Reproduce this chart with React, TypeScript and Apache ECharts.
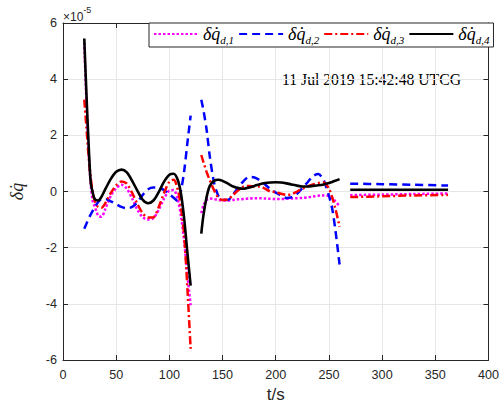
import React, { useEffect, useRef } from 'react';
import * as echarts from 'echarts';

// time samples of the three data segments (s)
const seg1T = [20, 22, 24, 26, 28, 30, 33, 36, 40, 45, 50, 55, 60, 65, 70, 75, 80, 85, 90, 95, 100, 104, 108, 111, 114, 117, 120];
const seg2T = [130, 132, 135, 138, 142, 146, 150, 155, 160, 165, 170, 175, 180, 185, 190, 195, 200, 205, 210, 215, 220, 225, 230, 235, 240, 245, 250, 253, 256, 260];
const seg3T = [270, 300, 330, 362];

// values in units of 1e-5
const d1Seg1 = [5.3, 3.2, 1.5, 0.3, -0.35, -0.55, -0.85, -0.9, -0.6, -0.15, 0.12, 0.24, 0.1, -0.25, -0.65, -0.92, -1.0, -0.95, -0.65, -0.25, 0.03, 0.05, -0.3, -0.9, -1.8, -3.0, -4.05];
const d1Seg2 = [-0.77, -0.5, -0.3, -0.25, -0.27, -0.3, -0.32, -0.32, -0.3, -0.28, -0.27, -0.25, -0.24, -0.24, -0.25, -0.26, -0.27, -0.27, -0.26, -0.25, -0.24, -0.23, -0.21, -0.18, -0.15, -0.14, -0.16, -0.22, -0.35, -0.52];
const d1Seg3 = [-0.13, -0.11, -0.09, -0.07];

const d2Seg1 = [-1.33, -1.15, -0.97, -0.82, -0.68, -0.55, -0.38, -0.28, -0.27, -0.35, -0.45, -0.55, -0.6, -0.55, -0.38, -0.12, 0.08, 0.14, 0.13, 0.05, -0.1, -0.22, -0.35, 0.05, 0.75, 1.75, 2.7];
const d2Seg2 = [3.27, 2.9, 2.2, 1.25, 0.32, -0.15, -0.27, -0.3, -0.1, 0.16, 0.38, 0.52, 0.5, 0.4, 0.25, 0.08, -0.04, -0.15, -0.23, -0.2, -0.08, 0.12, 0.33, 0.55, 0.62, 0.4, -0.15, -0.6, -1.35, -2.6];
const d2Seg3 = [0.28, 0.26, 0.24, 0.21];

const d3Seg1 = [3.27, 2.3, 1.3, 0.5, -0.05, -0.35, -0.55, -0.58, -0.4, -0.05, 0.22, 0.36, 0.28, -0.05, -0.45, -0.78, -0.93, -0.92, -0.55, -0.05, 0.35, 0.42, 0.05, -0.6, -1.6, -3.5, -5.6];
const d3Seg2 = [1.3, 1.05, 0.7, 0.4, 0.05, -0.22, -0.3, -0.28, -0.12, 0.05, 0.18, 0.2, 0.18, 0.18, 0.1, 0, -0.02, -0.08, -0.12, -0.1, 0, 0.1, 0.18, 0.25, 0.3, 0.32, 0.1, -0.2, -0.6, -1.25];
const d3Seg3 = [-0.2, -0.17, -0.14, -0.12];

const d4Seg1 = [5.45, 3.5, 1.75, 0.35, -0.05, -0.28, -0.32, -0.2, 0.1, 0.45, 0.7, 0.78, 0.68, 0.38, 0.02, -0.3, -0.42, -0.32, -0.02, 0.35, 0.6, 0.63, 0.4, -0.1, -1.0, -2.2, -3.35];
const d4Seg2 = [-1.5, -0.85, -0.2, 0.2, 0.38, 0.42, 0.38, 0.28, 0.18, 0.12, 0.1, 0.14, 0.2, 0.26, 0.3, 0.32, 0.33, 0.32, 0.29, 0.25, 0.21, 0.18, 0.18, 0.2, 0.22, 0.25, 0.3, 0.34, 0.38, 0.44];
const d4Seg3 = [0.06, 0.06, 0.06, 0.06];

const seriesNames = ['δq̇_d,1', 'δq̇_d,2', 'δq̇_d,3', 'δq̇_d,4'];
const xMin = 0, xMax = 400, xInterval = 50;
const yMin = -6, yMax = 6, yInterval = 2;
const dateText = '11 Jul 2019 15:42:48 UTCG';

function build(t1: number[], v1: number[], t2: number[], v2: number[], t3: number[], v3: number[]) {
  const out: any[] = [];
  t1.forEach((t, i) => out.push([t, v1[i]]));
  out.push([(t1[t1.length - 1] + t2[0]) / 2, '-']);
  t2.forEach((t, i) => out.push([t, v2[i]]));
  out.push([(t2[t2.length - 1] + t3[0]) / 2, '-']);
  t3.forEach((t, i) => out.push([t, v3[i]]));
  return out;
}

const AX = '#262626';

export default function App() {
  const ref = useRef<HTMLDivElement>(null);
  useEffect(() => {
    if (!ref.current) return;
    const chart = echarts.init(ref.current, null, { renderer: 'svg' });
    const seriesData = [
      build(seg1T, d1Seg1, seg2T, d1Seg2, seg3T, d1Seg3),
      build(seg1T, d2Seg1, seg2T, d2Seg2, seg3T, d2Seg3),
      build(seg1T, d3Seg1, seg2T, d3Seg2, seg3T, d3Seg3),
      build(seg1T, d4Seg1, seg2T, d4Seg2, seg3T, d4Seg3),
    ];
    const colors = ['#ff00ff', '#0000ff', '#ff0000', '#000000'];
    const dashes: any[] = [[2.5, 2], [8, 5], [8, 3, 2, 3], 'solid'];
    const widths = [2.5, 2.5, 2.5, 2.6];
    const grid = { left: 62, right: 10, top: 23, bottom: 48 };
    const option: any = {
      animation: false,
      backgroundColor: '#ffffff',
      grid,
      legend: {
        left: 149,
        top: 23,
        width: 420,
        orient: 'horizontal',
        padding: [2, 4, 2, 4],
        itemGap: 4,
        itemWidth: 44,
        itemHeight: 14,
        borderColor: AX,
        borderWidth: 1,
        borderRadius: 0,
        backgroundColor: '#ffffff',
        itemStyle: { opacity: 0 },
        data: seriesNames,
        formatter: (name: string) => {
          const [a, b] = name.split('_');
          return `{a|${a}}{b|${b}}`;
        },
        textStyle: {
          color: '#000',
          rich: {
            a: { fontFamily: 'Liberation Serif', fontStyle: 'italic', fontSize: 18, lineHeight: 22 },
            b: { fontFamily: 'Liberation Serif', fontStyle: 'italic', fontSize: 11, lineHeight: 11, verticalAlign: 'bottom' },
          },
        },
      },
      xAxis: [
        {
          type: 'value', min: xMin, max: xMax, interval: xInterval,
          name: 't/s', nameLocation: 'middle', nameGap: 25,
          nameTextStyle: { fontFamily: 'Liberation Sans', fontSize: 17, color: AX },
          axisLine: { show: true, onZero: false, lineStyle: { color: AX, width: 1 } },
          axisTick: { show: true, inside: true, length: 5, lineStyle: { color: AX } },
          axisLabel: { color: AX, fontFamily: 'Liberation Sans', fontSize: 12.6, margin: 8 },
          splitLine: { show: true, lineStyle: { color: '#e6e6e6', width: 1 } },
        },
        {
          type: 'value', min: xMin, max: xMax, interval: xInterval, position: 'top',
          axisLine: { show: true, onZero: false, lineStyle: { color: AX, width: 1 } },
          axisTick: { show: true, inside: true, length: 5, lineStyle: { color: AX } },
          axisLabel: { show: false },
          splitLine: { show: false },
        },
      ],
      yAxis: [
        {
          type: 'value', min: yMin, max: yMax, interval: yInterval,
          name: 'δq̇', nameLocation: 'middle', nameGap: 37, nameRotate: 90,
          nameTextStyle: { fontFamily: 'Liberation Serif', fontStyle: 'italic', fontSize: 18, color: AX },
          axisLine: { show: true, onZero: false, lineStyle: { color: AX, width: 1 } },
          axisTick: { show: true, inside: true, length: 5, lineStyle: { color: AX } },
          axisLabel: { color: AX, fontFamily: 'Liberation Sans', fontSize: 12.6, margin: 6 },
          splitLine: { show: true, lineStyle: { color: '#e6e6e6', width: 1 } },
        },
        {
          type: 'value', min: yMin, max: yMax, interval: yInterval, position: 'right',
          axisLine: { show: true, onZero: false, lineStyle: { color: AX, width: 1 } },
          axisTick: { show: true, inside: true, length: 5, lineStyle: { color: AX } },
          axisLabel: { show: false },
          splitLine: { show: false },
        },
      ],
      graphic: [
        {
          type: 'text', left: 63, top: 5,
          style: {
            text: '{a|×10}{b|-5}',
            fill: AX,
            rich: {
              a: { fontFamily: 'Liberation Sans', fontSize: 12, fill: AX, lineHeight: 18, verticalAlign: 'bottom' },
              b: { fontFamily: 'Liberation Sans', fontSize: 9, fill: AX, lineHeight: 9, verticalAlign: 'top' },
            },
          },
        },
        {
          type: 'text', left: 282, top: 71,
          style: { text: dateText, fill: '#000', fontFamily: 'Liberation Serif', fontSize: 15.7, lineWidth: 0 },
        },
      ],
      series: seriesNames.map((name, i) => ({
        name,
        type: 'line',
        data: seriesData[i],
        smooth: 0.3,
        symbol: 'none',
        connectNulls: false,
        xAxisIndex: 0,
        yAxisIndex: 0,
        itemStyle: { color: colors[i] },
        lineStyle: { color: colors[i], width: widths[i], type: dashes[i] },
      })),
    };
    chart.setOption(option);
    return () => chart.dispose();
  }, []);
  return (
    <div
      ref={ref}
      style={{ position: 'fixed', left: 0, top: 0, width: 502, height: 408, background: '#fff' }}
    />
  );
}
